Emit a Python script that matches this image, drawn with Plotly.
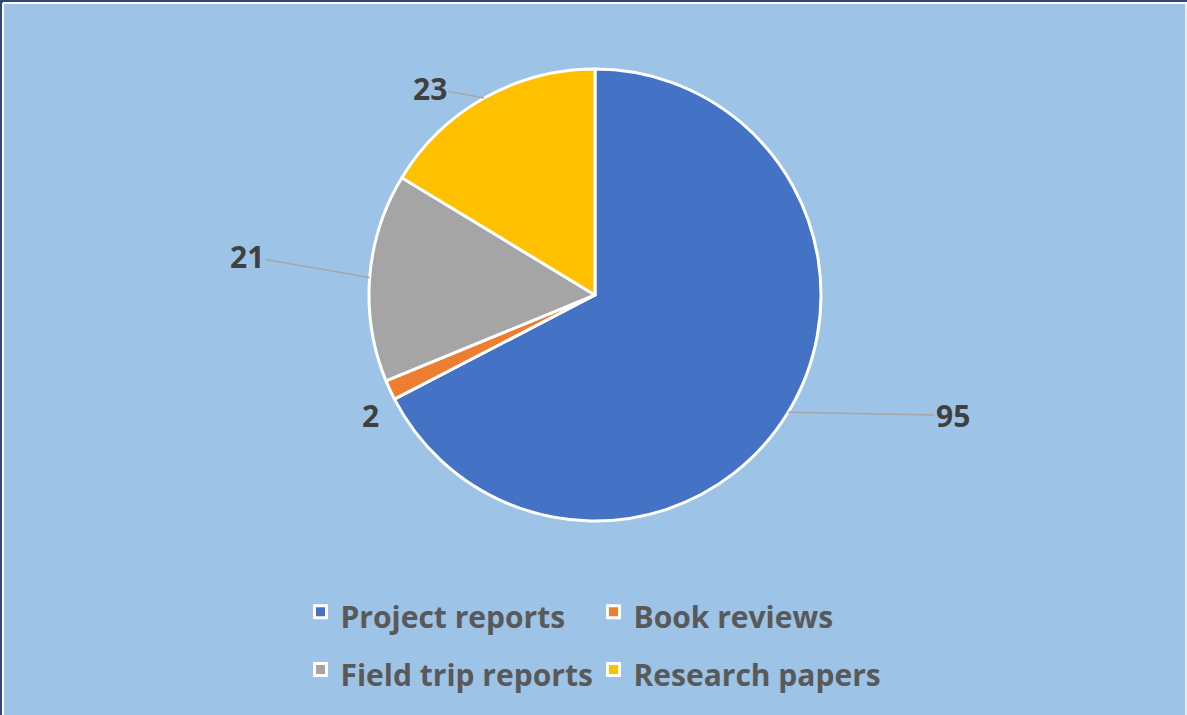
import math
import plotly.graph_objects as go

labels = ["Project reports", "Book reviews", "Field trip reports", "Research papers"]
values = [95, 2, 21, 23]
colors = ["#4472C4", "#ED7D31", "#A5A5A5", "#FFC000"]

W, H = 1187, 715
L, R = 250, 250            # side margins (limit legend to 2 entries per row)
GW = W - L - R

# pie box in pixels
pie_left, pie_right, pie_top, pie_bottom = 369, 821, 69, 521


def px2x(px):
    return (px - L) / GW


def py2y(py):
    return 1 - py / H


dom_x = [px2x(pie_left), px2x(pie_right)]
dom_y = [py2y(pie_bottom), py2y(pie_top)]

# label offsets in px from the slice's outer edge midpoint (dx, dy downward), leader visible
label_offsets = [(165, 3, True), (-19, 25, False), (-123, -21, True), (-54, -10, True)]

fig = go.Figure()
fig.add_trace(go.Pie(
    labels=[f"<span style='font-size:30px'><b>{t}</b></span>" for t in labels],
    values=values, sort=False, direction="clockwise", rotation=0,
    marker=dict(colors=colors, line=dict(color="white", width=3)),
    textinfo="none", hovertemplate="%{value}<extra></extra>",
    domain=dict(x=dom_x, y=dom_y),
))

cx = (pie_left + pie_right) / 2
cy = (pie_top + pie_bottom) / 2
r = (pie_right - pie_left) / 2

total = sum(values)
cum = 0
annotations = []
for v, (dx, dy, show) in zip(values, label_offsets):
    mid = (cum + v / 2) / total * 2 * math.pi
    cum += v
    px = cx + r * math.sin(mid)
    py = cy - r * math.cos(mid)
    annotations.append(dict(
        x=px2x(px), y=py2y(py), xref="paper", yref="paper",
        text=f"<b>{v}</b>", showarrow=True, ax=dx, ay=dy,
        arrowhead=0, arrowwidth=1.5,
        arrowcolor="#A6A6A6" if show else "rgba(0,0,0,0)",
        font=dict(size=30, color="#404040", family="Open Sans"),
    ))

navy = "#2E4A7D"
shapes = [
    dict(type="line", xref="paper", yref="paper", x0=px2x(0), x1=px2x(W), y0=1, y1=1,
         line=dict(color=navy, width=5)),
    dict(type="line", xref="paper", yref="paper", x0=px2x(0), x1=px2x(0), y0=0, y1=1,
         line=dict(color=navy, width=5)),
    dict(type="line", xref="paper", yref="paper", x0=px2x(3), x1=px2x(W), y0=py2y(3), y1=py2y(3),
         line=dict(color="white", width=2)),
    dict(type="line", xref="paper", yref="paper", x0=px2x(3), x1=px2x(3), y0=0, y1=py2y(3),
         line=dict(color="white", width=2)),
    dict(type="line", xref="paper", yref="paper", x0=px2x(W - 1), x1=px2x(W - 1), y0=0, y1=py2y(3),
         line=dict(color="white", width=1.5)),
]

fig.update_layout(
    width=W, height=H,
    paper_bgcolor="#9DC3E6", plot_bgcolor="#9DC3E6",
    margin=dict(l=L, r=R, t=0, b=0),
    showlegend=True,
    legend=dict(
        orientation="h", x=0.5, xanchor="center", y=py2y(578), yanchor="top",
        entrywidth=248, entrywidthmode="pixels",
        font=dict(size=42, color="#595959", family="Open Sans"),
        itemwidth=30, bgcolor="rgba(0,0,0,0)",
    ),
    annotations=annotations,
    shapes=shapes,
)

fig.write_html("out.html", config={"displayModeBar": False},
               post_script="document.body.style.margin='0';document.body.style.overflow='hidden';")
